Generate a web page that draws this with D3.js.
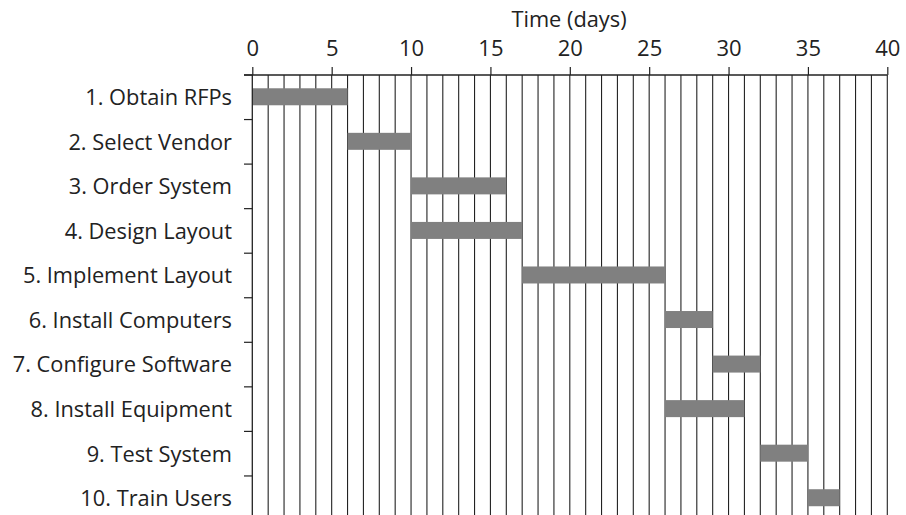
<!DOCTYPE html>
<html><head><meta charset="utf-8">
<script src="https://cdn.jsdelivr.net/npm/d3@7"></script>
<style>
html,body{margin:0;padding:0;background:#fff;overflow:hidden;}
text{font-family:"Open Sans", Lato, sans-serif;fill:#222;}
</style></head>
<body><svg id="c" width="906" height="515"></svg>
<script>
const tasks = ["1. Obtain RFPs","2. Select Vendor","3. Order System","4. Design Layout","5. Implement Layout","6. Install Computers","7. Configure Software","8. Install Equipment","9. Test System","10. Train Users"];
const starts = [0,6,10,10,17,26,29,26,32,35];
const ends   = [6,10,16,17,26,29,32,31,35,37];
const xTicks = [0,5,10,15,20,25,30,35,40];
const gridDays = d3.range(1,41);

const svg = d3.select("#c");
const x = d3.scaleLinear().domain([0,40]).range([252.3,887.3]);
const plotTop = 75;
const y = d3.scaleBand().domain(tasks).range([plotTop,plotTop+10*44.55]).padding(0);

// vertical day grid lines
svg.append("g").selectAll("line").data(gridDays).join("line")
  .attr("x1",d=>x(d)).attr("x2",d=>x(d)).attr("y1",plotTop).attr("y2",530)
  .attr("stroke","#222").attr("stroke-width",1.1);

// bars
const bh = 17;
svg.append("g").selectAll("rect").data(tasks).join("rect")
  .attr("x",(d,i)=>x(starts[i]))
  .attr("width",(d,i)=>x(ends[i])-x(starts[i]))
  .attr("y",d=>y(d)+y.bandwidth()/2-bh/2-0.5)
  .attr("height",bh)
  .attr("fill","#808080");

// top axis
const xAxis = d3.axisTop(x).tickValues(xTicks).tickSize(8).tickPadding(11).tickSizeOuter(0);
const gx = svg.append("g").attr("transform",`translate(0,${plotTop})`).call(xAxis);
gx.select(".domain").remove();
gx.selectAll(".tick line").attr("stroke","#222").attr("stroke-width",1.2);
gx.selectAll(".tick text").style("font-size","22px").style("font-family","'Open Sans', sans-serif").attr("fill","#222");
svg.append("line").attr("x1",244).attr("x2",x(40)).attr("y1",plotTop).attr("y2",plotTop)
  .attr("stroke","#222").attr("stroke-width",1.3);

// left axis line
svg.append("line").attr("x1",x(0)).attr("x2",x(0)).attr("y1",plotTop).attr("y2",530)
  .attr("stroke","#222").attr("stroke-width",1.3);
// row boundary ticks
svg.append("g").selectAll("line").data(tasks).join("line")
  .attr("x1",244).attr("x2",x(0)).attr("y1",d=>y(d)).attr("y2",d=>y(d))
  .attr("stroke","#222").attr("stroke-width",1.2);

// row labels
svg.append("g").selectAll("text").data(tasks).join("text")
  .attr("x",232).attr("y",d=>y(d)+y.bandwidth()/2)
  .attr("dy","0.36em").attr("text-anchor","end")
  .style("font-size","21.8px").text(d=>d);

// title
svg.append("text").attr("x",569).attr("y",27).attr("text-anchor","middle")
  .style("font-size","21.8px").text("Time (days)");
</script></body></html>
